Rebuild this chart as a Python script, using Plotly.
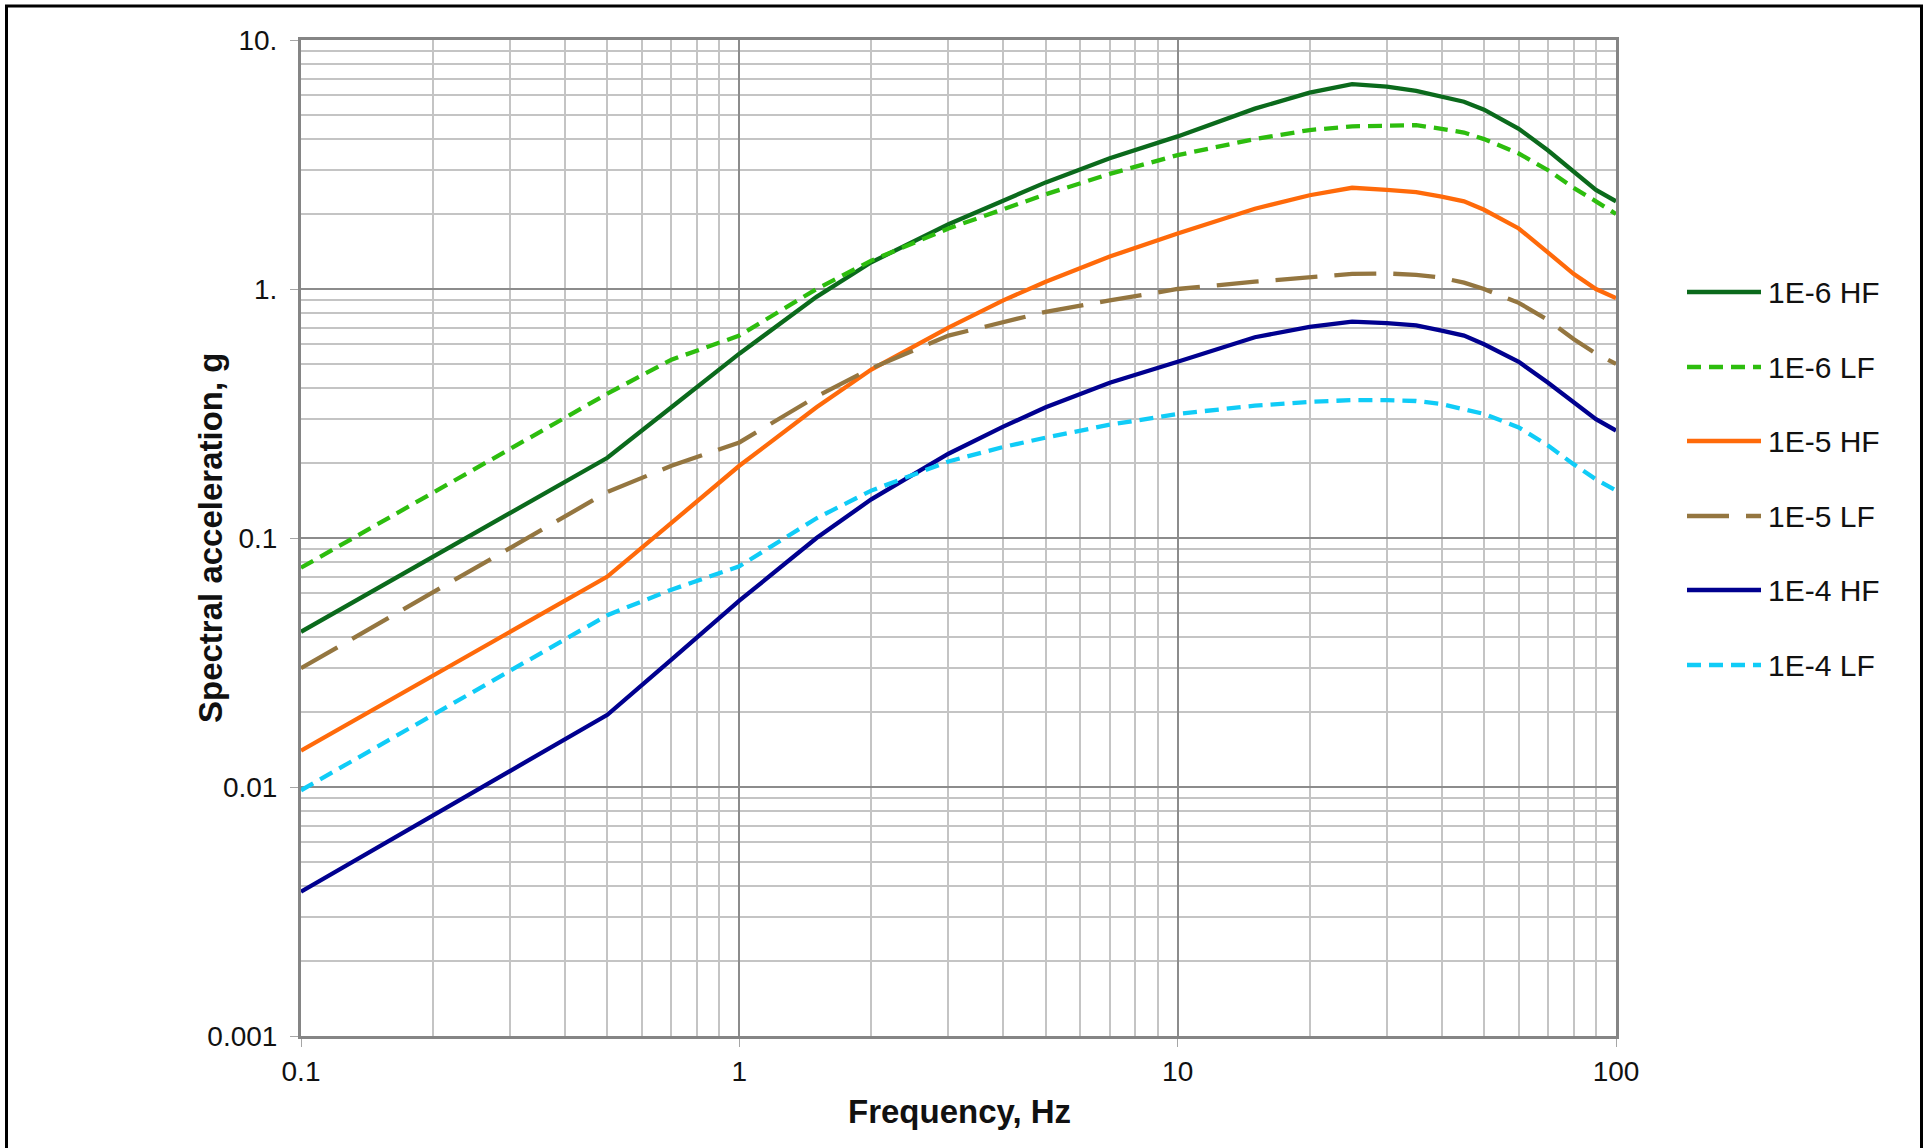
import plotly.graph_objects as go

# Frequencies (Hz) shared by all spectra
freq = [0.1, 0.5, 0.7, 1, 1.5, 2, 3, 4, 5, 7, 10, 15, 20, 25, 30, 35, 40, 45,
        50, 60, 70, 80, 90, 100]

# Spectral acceleration (g) for each hazard level / frequency content
sa_1e6_hf = [0.042, 0.21, 0.335, 0.55, 0.93, 1.28, 1.82, 2.25, 2.68, 3.35, 4.1,
             5.3, 6.15, 6.65, 6.5, 6.25, 5.95, 5.65, 5.25, 4.4, 3.6, 2.95, 2.5, 2.25]
sa_1e6_lf = [0.076, 0.38, 0.52, 0.65, 1.0, 1.3, 1.75, 2.1, 2.4, 2.9, 3.45,
             4.0, 4.35, 4.5, 4.55, 4.55, 4.4, 4.25, 4.0, 3.5, 3.0, 2.55, 2.25, 2.0]
sa_1e5_hf = [0.014, 0.07, 0.115, 0.195, 0.335, 0.475, 0.70, 0.9, 1.07, 1.35, 1.67,
             2.1, 2.38, 2.55, 2.5, 2.45, 2.35, 2.25, 2.08, 1.75, 1.4, 1.15, 1.0, 0.92]
sa_1e5_lf = [0.030, 0.153, 0.195, 0.242, 0.37, 0.48, 0.65, 0.74, 0.81, 0.9, 1.0,
             1.07, 1.12, 1.15, 1.155, 1.14, 1.11, 1.06, 1.0, 0.88, 0.75, 0.63, 0.55, 0.5]
sa_1e4_hf = [0.0038, 0.0195, 0.0325, 0.056, 0.1, 0.143, 0.218, 0.28, 0.335, 0.42, 0.51,
             0.64, 0.705, 0.74, 0.73, 0.715, 0.68, 0.65, 0.6, 0.51, 0.42, 0.35, 0.3, 0.27]
sa_1e4_lf = [0.0097, 0.049, 0.062, 0.077, 0.12, 0.155, 0.203, 0.232, 0.253, 0.285, 0.315,
             0.34, 0.352, 0.358, 0.358, 0.355, 0.345, 0.33, 0.315, 0.278, 0.235, 0.198, 0.172, 0.155]

series_names = ["1E-6 HF", "1E-6 LF", "1E-5 HF", "1E-5 LF", "1E-4 HF", "1E-4 LF"]
series_values = [sa_1e6_hf, sa_1e6_lf, sa_1e5_hf, sa_1e5_lf, sa_1e4_hf, sa_1e4_lf]

x_tick_vals = [0.1, 1, 10, 100]
x_tick_text = ["0.1", "1", "10", "100"]
y_tick_vals = [0.001, 0.01, 0.1, 1, 10]
y_tick_text = ["0.001", "0.01", "0.1", "1.", "10."]

# Line styles per series
colors = ["#0b6a1c", "#2dbd0e", "#ff6a0a", "#947640", "#00008f", "#10ccf7"]
dashes = ["solid", "14px,8px", "solid", "42px,17px", "solid", "14px,8px"]
LINE_W = 4.3

# Plot-area geometry in pixels
W, H = 1929, 1148
L, R, T, B = 301, 1616, 40, 1036
PW, PH = R - L, B - T


def px_x(p):
    return (p - L) / PW


def px_y(p):
    return (B - p) / PH


fig = go.Figure()
for name, vals, c, d in zip(series_names, series_values, colors, dashes):
    fig.add_trace(go.Scatter(
        x=freq, y=vals, mode="lines", name=name,
        line=dict(color=c, width=LINE_W, dash=d),
        showlegend=False,
    ))

# Minor grid at 2..9 within each decade
x_minor = [m * 10 ** e for e in (-1, 0, 1) for m in range(2, 10)]
y_minor = [m * 10 ** e for e in (-3, -2, -1, 0) for m in range(2, 10)]

font_family = "Liberation Sans, Arial, sans-serif"

axis_common = dict(
    type="log",
    showgrid=True, gridcolor="#8c8c8c", gridwidth=2,
    showline=True, linecolor="#858585", linewidth=3, mirror=True,
    ticks="outside", ticklen=8, tickwidth=1, tickcolor="#a6a6a6",
    tickfont=dict(family=font_family, size=28, color="#111111"),
    zeroline=False,
)

fig.update_xaxes(
    range=[-1, 2], tickvals=x_tick_vals, ticktext=x_tick_text,
    minor=dict(tickvals=x_minor, showgrid=True, gridcolor="#c4c4c4", gridwidth=1.5, ticks=""),
    ticklabelstandoff=0,
    **axis_common,
)
fig.update_yaxes(
    range=[-3, 1], tickvals=y_tick_vals, ticktext=y_tick_text,
    minor=dict(tickvals=y_minor, showgrid=True, gridcolor="#c4c4c4", gridwidth=1.5, ticks=""),
    ticklabelstandoff=7,
    **axis_common,
)

annotations = [
    dict(text="<b>Frequency, Hz</b>", xref="paper", yref="paper",
         x=px_x(959), y=px_y(1111), xanchor="center", yanchor="middle",
         showarrow=False, font=dict(family=font_family, size=33, color="#111111")),
    dict(text="<b>Spectral acceleration, g</b>", xref="paper", yref="paper",
         x=px_x(210), y=px_y(538), xanchor="center", yanchor="middle", textangle=-90,
         showarrow=False, font=dict(family=font_family, size=33, color="#111111")),
]

shapes = [
    # outer frame
    dict(type="rect", xref="paper", yref="paper",
         x0=px_x(6.5), x1=px_x(1921.5), y0=px_y(6), y1=px_y(1160),
         line=dict(color="black", width=3), fillcolor="rgba(0,0,0,0)", layer="above"),
]

# Legend drawn as line samples with labels
legend_y = [292, 367, 441, 516, 590, 665]
for name, c, d, ly in zip(series_names, colors, dashes, legend_y):
    shapes.append(dict(type="line", xref="paper", yref="paper",
                       x0=px_x(1687), x1=px_x(1761), y0=px_y(ly), y1=px_y(ly),
                       line=dict(color=c, width=LINE_W, dash=d)))
    annotations.append(dict(text=name, xref="paper", yref="paper",
                            x=px_x(1766), y=px_y(ly), xanchor="left", yanchor="middle",
                            showarrow=False,
                            font=dict(family=font_family, size=30, color="#111111")))

fig.update_layout(
    width=W, height=H,
    margin=dict(l=L, r=W - R, t=T, b=H - B, pad=0),
    paper_bgcolor="white", plot_bgcolor="white",
    showlegend=False,
    annotations=annotations,
    shapes=shapes,
)

fig.write_html("out.html")
